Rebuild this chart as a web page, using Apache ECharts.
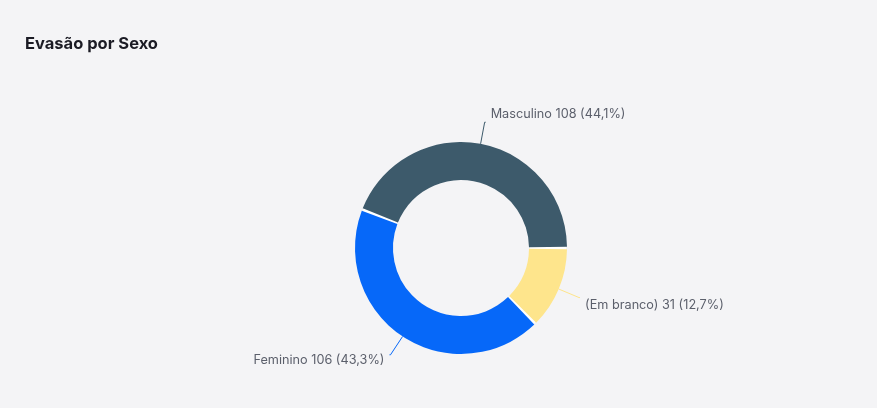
<!DOCTYPE html>
<html>
<head>
<meta charset="utf-8">
<script src="https://cdn.jsdelivr.net/npm/echarts@6/dist/echarts.min.js"></script>
<style>
html,body{margin:0;padding:0;background:#f4f4f6;}
#c{width:877px;height:408px;}
</style>
</head>
<body>
<div id="c"></div>
<script>
const categories = ['Masculino', 'Feminino', '(Em branco)'];
const values = [108, 106, 31];
const percentLabels = ['44,1%', '43,3%', '12,7%'];
const colors = ['#3d5a6b', '#0668f9', '#fee58c'];

const labelShiftY = [-8, 5, 8];

const chart = echarts.init(document.getElementById('c'));
chart.setOption({
  backgroundColor: '#f4f4f6',
  title: {
    text: 'Evasão por Sexo',
    left: 20,
    top: 31,
    textStyle: { fontFamily: 'Inter', fontSize: 16.5, fontWeight: 'bold', color: '#1b1b24' }
  },
  series: [{
    type: 'pie',
    silent: true,
    center: [461, 248],
    radius: [69, 105],
    startAngle: 0,
    clockwise: false,
    label: { show: false },
    labelLine: { show: false },
    itemStyle: { color: '#ffffff' },
    data: [{ value: 1, name: '' }],
    z: 1
  }, {
    type: 'pie',
    center: [461, 248],
    radius: [68, 106],
    startAngle: 0,
    clockwise: false,
    padAngle: 1.4,
    avoidLabelOverlap: false,
    label: {
      show: true,
      fontFamily: 'Inter',
      fontSize: 12.7,
      color: '#5b5f6b',
      formatter: p => p.name + ' ' + p.value + ' (' + percentLabels[p.dataIndex] + ')'
    },
    labelLine: { show: true, length: 22, length2: 1, lineStyle: { width: 1 } },
    labelLayout: p => ({ dy: labelShiftY[p.dataIndex] }),
    emphasis: { disabled: true },
    data: categories.map((c, i) => ({
      name: c,
      value: values[i],
      itemStyle: { color: colors[i] }
    })),
    z: 2
  }]
});
</script>
</body>
</html>
